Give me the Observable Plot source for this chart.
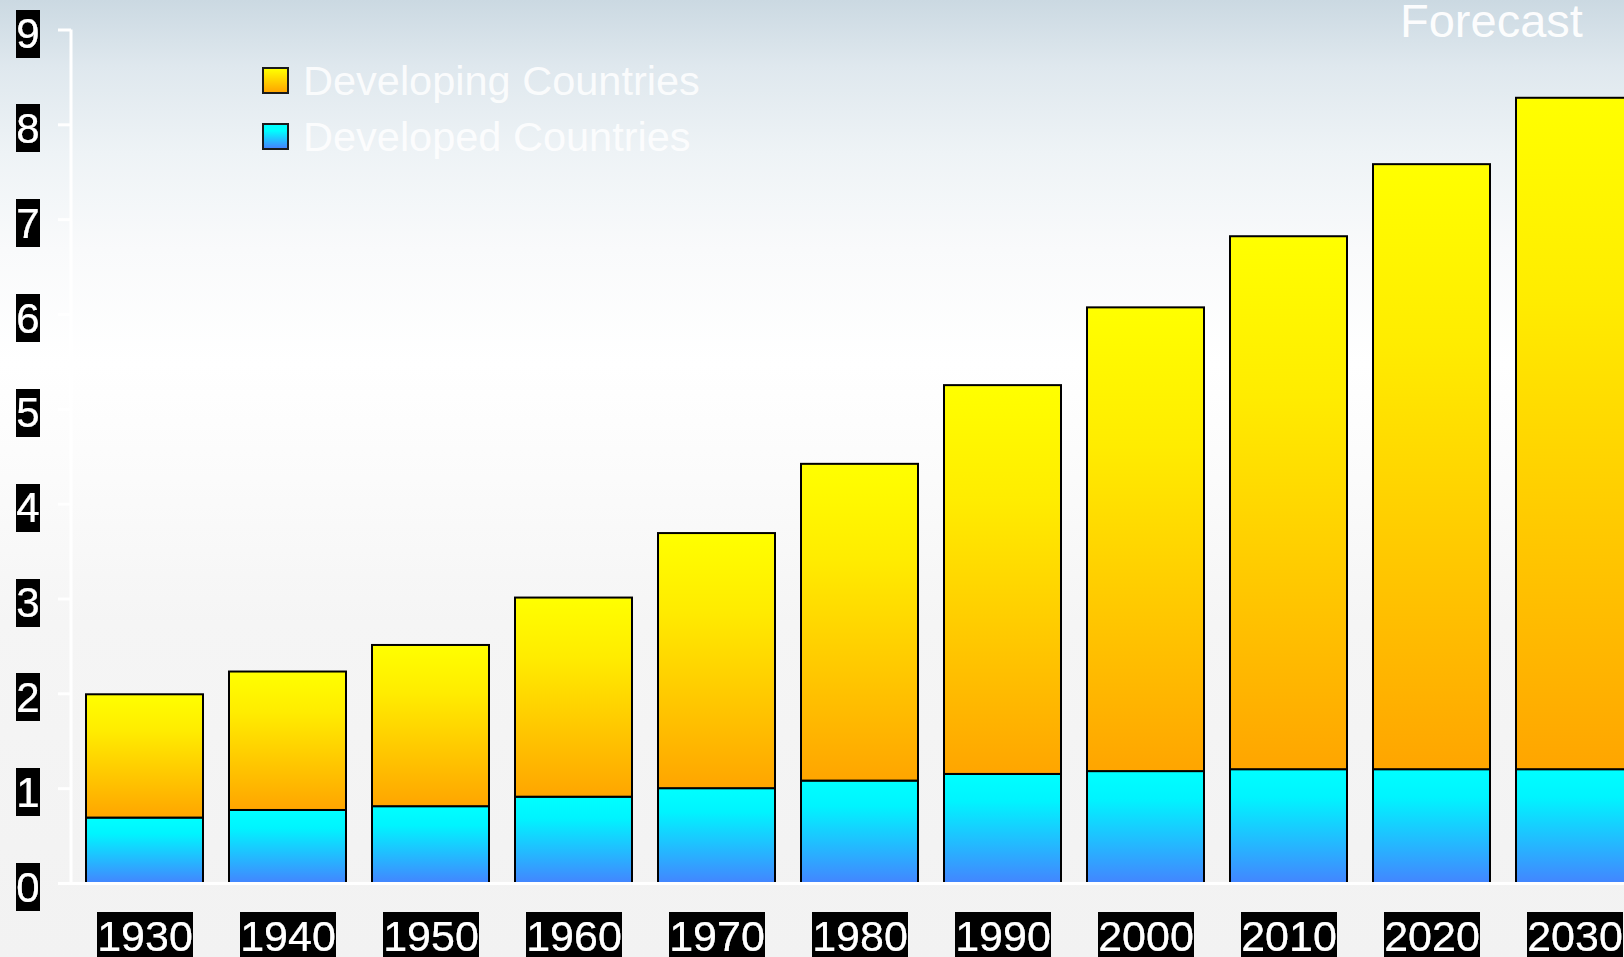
<!DOCTYPE html>
<html>
<head>
<meta charset="utf-8">
<script src="https://cdn.jsdelivr.net/npm/d3@7"></script>
<script src="https://cdn.jsdelivr.net/npm/@observablehq/plot@0.6"></script>
<style>
  html, body { margin: 0; padding: 0; overflow: hidden; }
  #wrap {
    position: relative; width: 1624px; height: 957px; overflow: hidden;
    background: linear-gradient(to bottom, #cbd9e2 0%, #dfe8ee 7%, #eef3f6 16%, #f9fafb 26%, #ffffff 38%, #fbfbfb 50%, #f5f5f5 65%, #f2f2f2 100%);
    font-family: "Liberation Sans", Arial, sans-serif;
  }
  .forecast { position: absolute; left: 1400px; top: -3px; font-size: 47px; line-height: 1; color: rgba(255,255,255,0.95); }
  .leg { position: absolute; left: 262px; display: flex; align-items: center; }
  .leg .sw { width: 23px; height: 23px; border: 2px solid #1a1a1a; box-sizing: content-box; }
  .leg .tx { position: absolute; left: 41px; top: -7px; font-size: 41.5px; line-height: 1; color: rgba(255,255,255,0.85); white-space: nowrap; }
</style>
</head>
<body>
<svg width="0" height="0" style="position:absolute">
  <defs>
    <linearGradient id="gDeveloping" x1="0" y1="0" x2="0" y2="1">
      <stop offset="0%" stop-color="#ffff00"/>
      <stop offset="30%" stop-color="#ffec00"/>
      <stop offset="100%" stop-color="#ffa500"/>
    </linearGradient>
    <linearGradient id="gDeveloped" x1="0" y1="0" x2="0" y2="1">
      <stop offset="0%" stop-color="#00ffff"/>
      <stop offset="25%" stop-color="#00f4ff"/>
      <stop offset="100%" stop-color="#4385ff"/>
    </linearGradient>
    <filter id="lblbg" x="0" y="0" width="1" height="1">
      <feFlood flood-color="#000000"/>
      <feComposite in="SourceGraphic" operator="over"/>
    </filter>
  </defs>
</svg>
<div id="wrap">
  <div class="forecast">Forecast</div>
  <div class="leg" style="top:67px"><div class="sw" style="background:linear-gradient(#ffff00,#ffa500)"></div><div class="tx">Developing Countries</div></div>
  <div class="leg" style="top:123px"><div class="sw" style="background:linear-gradient(#00ffff 25%,#4385ff)"></div><div class="tx">Developed Countries</div></div>
</div>
<script>
const years = ["1930", "1940", "1950", "1960", "1970", "1980", "1990", "2000", "2010", "2020", "2030"];
const developed = [0.69, 0.77, 0.81, 0.91, 1.00, 1.08, 1.15, 1.18, 1.20, 1.20, 1.20];
const developing = [1.30, 1.46, 1.70, 2.10, 2.69, 3.34, 4.10, 4.89, 5.62, 6.38, 7.08];
const yTicks = [0, 1, 2, 3, 4, 5, 6, 7, 8, 9];
const groups = ["Developed Countries", "Developing Countries"];

const tidy = years.flatMap((yr, i) => [
  {year: yr, group: groups[0], value: developed[i]},
  {year: yr, group: groups[1], value: developing[i]}
]);

const yAxisLine = (index, scales, values, dimensions) => {
  const g = d3.create("svg:g");
  g.append("line")
    .attr("x1", dimensions.marginLeft).attr("x2", dimensions.marginLeft)
    .attr("y1", scales.y(yTicks[yTicks.length - 1])).attr("y2", scales.y(0))
    .attr("stroke", "white").attr("stroke-width", 3);
  return g.node();
};

const chart = Plot.plot({
  width: 1624,
  height: 957,
  marginTop: 29.5,
  marginBottom: 74,
  marginLeft: 71,
  marginRight: 0,
  style: {background: "transparent", fontFamily: "'Liberation Sans', Arial, sans-serif", overflow: "hidden"},
  x: {domain: years, range: [73, 1646], paddingInner: 0.18, paddingOuter: 0.09, axis: null},
  y: {domain: [0, 9], axis: null},
  color: {domain: groups, range: ["url(#gDeveloped)", "url(#gDeveloping)"]},
  marks: [
    Plot.barY(tidy, {x: "year", y: "value", fill: "group", stroke: "black", strokeWidth: 2}),
    yAxisLine,
    Plot.ruleY([0], {stroke: "white", strokeWidth: 3, insetLeft: -13}),
    Plot.axisY({ticks: yTicks, anchor: "left", label: null, tickSize: 13, tickPadding: 19, stroke: "white", strokeWidth: 3, fill: "white", fontSize: 42, tickFormat: d => String(d)}),
    Plot.axisX({anchor: "bottom", label: null, tickSize: 0, tickPadding: 37, fill: "white", fontSize: 43})
  ]
});

d3.select(chart).selectAll('g[aria-label="y-axis tick label"] text, g[aria-label="x-axis tick label"] text')
  .attr("filter", "url(#lblbg)");
d3.select(chart).selectAll('g[aria-label="y-axis tick label"]')
  .attr("transform", function() { return (this.getAttribute("transform") || "") + " translate(0,4.6)"; });

chart.style.position = "absolute";
chart.style.left = "0";
chart.style.top = "0";
document.getElementById("wrap").prepend(chart);
</script>
</body>
</html>
